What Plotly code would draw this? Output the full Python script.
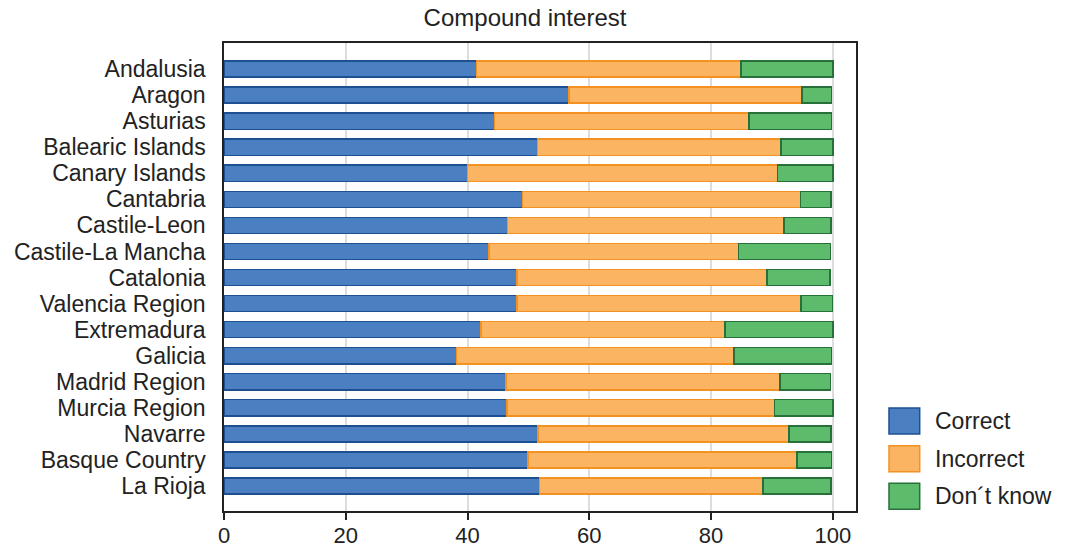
import plotly.graph_objects as go

regions = ["Andalusia", "Aragon", "Asturias", "Balearic Islands", "Canary Islands",
           "Cantabria", "Castile-Leon", "Castile-La Mancha", "Catalonia",
           "Valencia Region", "Extremadura", "Galicia", "Madrid Region",
           "Murcia Region", "Navarre", "Basque Country", "La Rioja"]

correct = [41.5, 56.7, 44.4, 51.5, 40.0, 49.0, 46.6, 43.5, 48.1,
           48.1, 42.2, 38.2, 46.3, 46.5, 51.6, 49.9, 51.8]
incorrect = [43.4, 38.2, 41.8, 40.0, 50.9, 45.7, 45.4, 41.0, 41.1,
             46.7, 40.1, 45.6, 45.0, 43.9, 41.2, 44.2, 36.7]
dont_know = [15.1, 4.9, 13.6, 8.5, 9.1, 5.0, 7.7, 15.1, 10.3,
             5.1, 17.7, 16.0, 8.3, 9.6, 6.9, 5.7, 11.2]

series_names = ["Correct", "Incorrect", "Don\u00b4t know"]
series_values = [correct, incorrect, dont_know]
fills = ["#4a80c2", "#fbb562", "#5dbc6c"]
outlines = ["#1e4f91", "#f39223", "#27703a"]

x_ticks = [0, 20, 40, 60, 80, 100]

FONT = "Liberation Sans, Arial, Helvetica, sans-serif"
TXT = "#222222"

fig = go.Figure()
for name, vals, fc, lc in zip(series_names, series_values, fills, outlines):
    fig.add_trace(go.Bar(
        y=regions, x=vals, name=name, orientation="h",
        marker=dict(color=fc, line=dict(color=lc, width=1.5)),
        showlegend=False,
    ))

# custom legend (large swatches like the reference)
legend_y = [0.1923, 0.1118, 0.0314]
shapes = []
annotations = []
for name, fc, lc, ly in zip(series_names, fills, outlines, legend_y):
    shapes.append(dict(type="rect", xref="paper", yref="paper",
                       x0=1.0522, x1=1.1008, y0=ly - 0.0278, y1=ly + 0.0278,
                       fillcolor=fc, line=dict(color=lc, width=1.5)))
    annotations.append(dict(xref="paper", yref="paper", x=1.1215, y=ly,
                            xanchor="left", yanchor="middle", showarrow=False,
                            text=name, font=dict(family=FONT, size=23, color=TXT)))

fig.update_layout(
    barmode="stack",
    bargap=0.38,
    width=1066, height=548,
    margin=dict(l=224, r=210, t=43, b=37, autoexpand=False),
    paper_bgcolor="white", plot_bgcolor="white",
    font=dict(family=FONT, size=22, color=TXT),
    title=dict(text="Compound interest", x=525 / 1066, xanchor="center",
               xref="container", y=1 - 18 / 548, yref="container", yanchor="middle",
               font=dict(family=FONT, size=24, color=TXT)),
    shapes=shapes,
    annotations=annotations,
)
fig.update_xaxes(
    range=[0, 103.8], tickmode="array", tickvals=x_ticks,
    ticktext=[str(t) for t in x_ticks],
    showgrid=True, gridcolor="#dddddd", gridwidth=2,
    showline=True, linecolor=TXT, linewidth=1.5, mirror=True,
    ticks="outside", ticklen=7, tickcolor=TXT, tickwidth=1.5,
    tickfont=dict(family=FONT, size=22, color=TXT), ticklabelstandoff=-3,
    zeroline=False, automargin=False,
)
fig.update_yaxes(
    type="category", categoryorder="array", categoryarray=regions,
    tickmode="array", tickvals=regions, ticktext=regions,
    range=[16.96, -1.0],
    showline=True, linecolor=TXT, linewidth=1.5, mirror=True,
    ticks="", showgrid=False, ticklabelstandoff=12,
    tickfont=dict(family=FONT, size=23, color=TXT),
    automargin=False,
)

fig.write_html("out.html",
               config={"displayModeBar": False},
               post_script="document.body.style.margin='0';document.body.style.overflow='hidden';")
